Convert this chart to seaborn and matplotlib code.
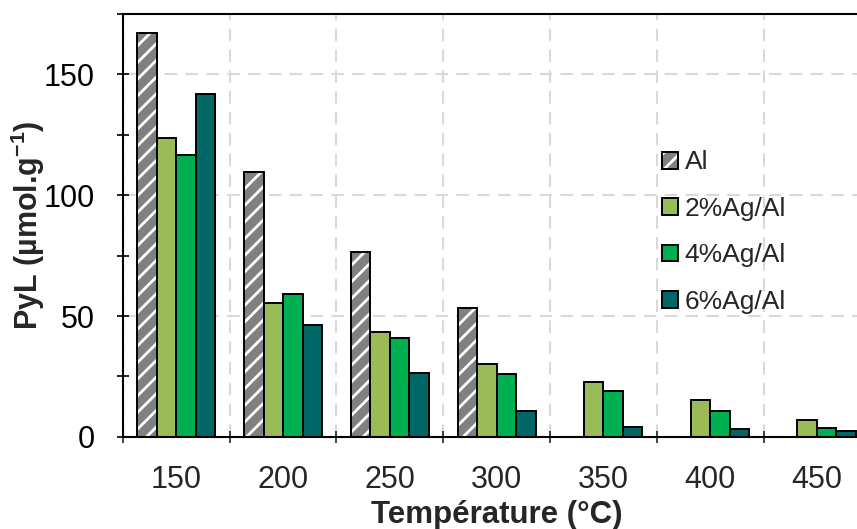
import numpy as np
import pandas as pd
import matplotlib
matplotlib.use('Agg')
import matplotlib.pyplot as plt
from matplotlib.patches import Patch, Rectangle
from matplotlib.ticker import MultipleLocator, FixedLocator
from matplotlib.legend_handler import HandlerTuple
import seaborn as sns

# values
temperatures = ['150', '200', '250', '300', '350', '400', '450']
samples = ['Al', '2%Ag/Al', '4%Ag/Al', '6%Ag/Al']
al = [167, 109.5, 76.5, 53.5, np.nan, np.nan, np.nan]
ag2 = [123.5, 55.5, 43.5, 30, 22.8, 15.3, 7]
ag4 = [116.5, 59, 41, 26, 18.8, 10.8, 3.8]
ag6 = [141.7, 46.5, 26.5, 10.8, 4.2, 3.4, 2.6]
colors = ['#808080', '#9BBB59', '#00B050', '#006666']

sns.set_style('white')
plt.rcParams['font.family'] = ['Liberation Sans', 'DejaVu Sans']
plt.rcParams['mathtext.fontset'] = 'custom'
plt.rcParams['mathtext.rm'] = 'Liberation Sans'
plt.rcParams['mathtext.bf'] = 'Liberation Sans:bold'
plt.rcParams['hatch.linewidth'] = 2.0

rows = []
for name, vals in zip(samples, [al, ag2, ag4, ag6]):
    for t, v in zip(temperatures, vals):
        rows.append({'Temperature': t, 'Sample': name, 'PyL': v})
df = pd.DataFrame(rows).dropna()

fig = plt.figure(figsize=(8.57, 5.29), dpi=100)
ax = fig.add_axes([0.1435, 0.174, 0.872, 0.80])

sns.barplot(data=df, x='Temperature', y='PyL', hue='Sample', order=temperatures,
            hue_order=samples, palette=colors, saturation=1, width=0.73,
            edgecolor='black', linewidth=1.4, legend=False, ax=ax)

# hatched grey bars: white stripes, black outline drawn on top
for p in ax.containers[0]:
    p.set_hatch('//')
    p.set_edgecolor('white')
    p.set_linewidth(0)
    ax.add_patch(Rectangle((p.get_x(), p.get_y()), p.get_width(), p.get_height(),
                           fill=False, edgecolor='black', lw=1.4, zorder=p.get_zorder() + 0.1))

ax.set_xlim(-0.5, len(temperatures) - 0.5)
ax.set_ylim(0, 175)

ax.yaxis.set_major_locator(FixedLocator([0, 50, 100, 150]))
ax.yaxis.set_minor_locator(MultipleLocator(25))
ax.xaxis.set_minor_locator(FixedLocator(np.arange(-0.5, len(temperatures), 1)))

ax.set_axisbelow(True)
ax.grid(axis='y', which='major', color='#d9d9d9', linestyle=(0, (6, 4)), lw=1.5)
ax.grid(axis='x', which='minor', color='#d9d9d9', linestyle=(0, (6, 4)), lw=1.5)
ax.grid(axis='x', which='major', visible=False)

ax.tick_params(axis='y', which='both', direction='inout', length=9, width=1.2,
               left=True, labelsize=22, pad=16, colors='black')
ax.tick_params(axis='x', which='major', length=0, labelsize=22, pad=20)
ax.tick_params(axis='x', which='minor', direction='inout', length=9, width=1.2, bottom=True)

for side in ['left', 'bottom', 'top']:
    ax.spines[side].set_visible(True)
    ax.spines[side].set_color('black')
    ax.spines[side].set_linewidth(1.5)
ax.spines['right'].set_visible(False)

ax.set_xlabel('Température (°C)', fontsize=22.5, fontweight='bold')
ax.set_ylabel(r'PyL (µmol.g$^{\mathbf{-1}}$)', fontsize=22, fontweight='bold')
ax.xaxis.set_label_coords(0.5, -0.148)
ax.yaxis.set_label_coords(-0.102, 0.5)

al_handle = (Patch(facecolor=colors[0], edgecolor='white', lw=0, hatch='//'),
             Patch(fill=False, edgecolor='black', lw=1.4))
handles = [al_handle] + [Patch(facecolor=c, edgecolor='black', lw=1.4) for c in colors[1:]]
leg = ax.legend(handles, samples, loc='upper left', bbox_to_anchor=(0.69, 0.733),
                frameon=False, fontsize=19, handlelength=0.6, handleheight=0.6,
                handletextpad=0.25, labelspacing=0.85,
                handler_map={tuple: HandlerTuple(ndivide=1, pad=0)})

fig.savefig('out.png', dpi=100)
